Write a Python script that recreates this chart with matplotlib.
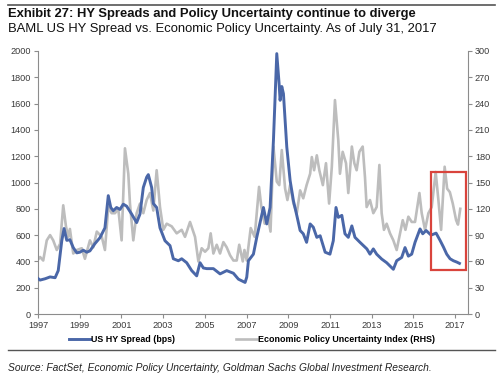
import matplotlib
matplotlib.use("Agg")
import matplotlib.pyplot as plt
from matplotlib.patches import Rectangle

plt.rcParams['font.family'] = ['Liberation Sans', 'DejaVu Sans']

# ---------------- data ----------------
hy_dates = [1997.00, 1997.10, 1997.34, 1997.58, 1997.82, 1997.97, 1998.14, 1998.25, 1998.38, 1998.53,
            1998.69, 1998.86, 1999.01, 1999.17, 1999.34, 1999.49, 1999.73, 1999.97, 2000.21, 2000.37,
            2000.49, 2000.61, 2000.77, 2000.93, 2001.09, 2001.25, 2001.49, 2001.73, 2001.89, 2002.05,
            2002.21, 2002.29, 2002.45, 2002.53, 2002.69, 2002.85, 2003.09, 2003.33, 2003.49, 2003.73,
            2003.89, 2004.13, 2004.37, 2004.61, 2004.77, 2004.93, 2005.09, 2005.41, 2005.73, 2006.05,
            2006.37, 2006.61, 2006.93, 2007.01, 2007.09, 2007.33, 2007.49, 2007.81, 2007.97, 2008.13,
            2008.29, 2008.45, 2008.56, 2008.61, 2008.69, 2008.77, 2008.93, 2009.09, 2009.25, 2009.41,
            2009.57, 2009.72, 2009.88, 2010.05, 2010.20, 2010.37, 2010.53, 2010.77, 2011.00, 2011.16,
            2011.29, 2011.40, 2011.57, 2011.72, 2011.88, 2012.05, 2012.20, 2012.44, 2012.77, 2012.92,
            2013.08, 2013.24, 2013.48, 2013.72, 2014.04, 2014.20, 2014.44, 2014.60, 2014.76, 2014.92,
            2015.08, 2015.32, 2015.45, 2015.61, 2015.85, 2016.09, 2016.28, 2016.44, 2016.60, 2016.76,
            2016.92, 2017.08, 2017.21]
hy_spread = [270, 258, 268, 282, 276, 330, 557, 650, 560, 565,
             505, 465, 470, 485, 470, 480, 535, 580, 655, 900,
             810, 785, 810, 795, 835, 820, 760, 695, 760, 962,
             1040, 1060, 962, 840, 810, 655, 557, 520, 420, 405,
             420, 390, 330, 290, 390, 350, 345, 345, 305, 330,
             310, 265, 240, 280, 405, 455, 583, 810, 685, 810,
             1320, 1980, 1755, 1625, 1730, 1675, 1270, 1015, 860, 750,
             635, 610, 545, 685, 660, 583, 595, 470, 455, 557,
             810, 735, 750, 610, 583, 670, 583, 545, 495, 455,
             495, 455, 418, 390, 340, 405, 430, 505, 440, 455,
             545, 647, 610, 635, 600, 615, 560, 510, 455, 420,
             405, 395, 385]

epu_dates = [1997.00, 1997.10, 1997.25, 1997.42, 1997.58, 1997.73, 1997.90, 1998.06, 1998.21, 1998.34,
             1998.45, 1998.53, 1998.69, 1998.86, 1999.10, 1999.25, 1999.49, 1999.65, 1999.82, 2000.06,
             2000.21, 2000.37, 2000.53, 2000.69, 2000.85, 2001.01, 2001.17, 2001.33, 2001.41, 2001.57,
             2001.73, 2001.89, 2002.05, 2002.21, 2002.37, 2002.53, 2002.69, 2002.85, 2003.01, 2003.17,
             2003.41, 2003.65, 2003.89, 2004.05, 2004.29, 2004.53, 2004.69, 2004.85, 2005.01, 2005.17,
             2005.28, 2005.41, 2005.57, 2005.73, 2005.89, 2006.05, 2006.21, 2006.37, 2006.53, 2006.65,
             2006.82, 2006.90, 2007.01, 2007.20, 2007.39, 2007.60, 2007.71, 2007.87, 2008.03, 2008.15,
             2008.29, 2008.45, 2008.57, 2008.69, 2008.85, 2008.96, 2009.09, 2009.25, 2009.41, 2009.57,
             2009.72, 2009.88, 2010.05, 2010.13, 2010.24, 2010.37, 2010.49, 2010.66, 2010.81, 2010.96,
             2011.09, 2011.24, 2011.40, 2011.48, 2011.61, 2011.77, 2011.88, 2012.05, 2012.17, 2012.28,
             2012.41, 2012.57, 2012.68, 2012.76, 2012.92, 2013.08, 2013.24, 2013.37, 2013.48, 2013.59,
             2013.72, 2013.88, 2014.04, 2014.20, 2014.33, 2014.49, 2014.62, 2014.76, 2014.92, 2015.08,
             2015.29, 2015.40, 2015.56, 2015.72, 2015.88, 2016.07, 2016.20, 2016.33, 2016.50, 2016.62,
             2016.75, 2016.89, 2017.05, 2017.14, 2017.25]
epu_index = [62, 65, 61, 84, 90, 84, 73, 80, 124, 100,
             88, 97, 69, 73, 75, 63, 84, 76, 94, 88,
             73, 122, 115, 115, 120, 84, 189, 160, 126, 84,
             115, 126, 115, 130, 138, 118, 164, 122, 96, 103,
             100, 92, 96, 88, 105, 88, 60, 75, 71, 75,
             92, 69, 79, 69, 82, 76, 67, 61, 61, 79,
             60, 73, 61, 98, 88, 145, 122, 103, 111, 94,
             191, 151, 147, 187, 143, 130, 147, 126, 115, 141,
             132, 147, 160, 179, 164, 181, 164, 147, 172, 126,
             168, 244, 198, 160, 185, 172, 138, 191, 172, 164,
             185, 191, 156, 122, 130, 115, 122, 170, 115, 96,
             103, 92, 84, 73, 88, 107, 96, 111, 105, 105,
             138, 115, 96, 115, 122, 162, 130, 96, 168, 143,
             139, 126, 107, 102, 120]

year_ticks = list(range(1997, 2018, 2))
left_ticks = list(range(0, 2001, 200))
right_ticks = list(range(0, 301, 30))

title = "Exhibit 27: HY Spreads and Policy Uncertainty continue to diverge"
subtitle = "BAML US HY Spread vs. Economic Policy Uncertainty. As of July 31, 2017"
source = "Source: FactSet, Economic Policy Uncertainty, Goldman Sachs Global Investment Research."
label_hy = "US HY Spread (bps)"
label_epu = "Economic Policy Uncertainty Index (RHS)"

# ---------------- figure ----------------
W, H = 500, 381
fig = plt.figure(figsize=(W / 100, H / 100), dpi=100)

def fx(px):
    return px / W

def fy(py):
    return 1 - py / H

ax = fig.add_axes([fx(38), fy(314), fx(468) - fx(38), fy(51) - fy(314)])
ax2 = ax.twinx()

blue = "#4A67A8"
grey = "#BDBDBD"
spine_c = "#8C8C8C"
txt_c = "#3A3A3A"

l2, = ax2.plot(epu_dates, epu_index, color=grey, lw=1.9, solid_joinstyle='round', zorder=1)
l1, = ax.plot(hy_dates, hy_spread, color=blue, lw=2.1, solid_joinstyle='round', zorder=3)
ax.set_zorder(ax2.get_zorder() + 1)
ax.patch.set_visible(False)

ax.set_xlim(1997, 2017.62)
ax.set_ylim(0, 2000)
ax2.set_ylim(0, 300)
ax.set_xticks(year_ticks)
ax.set_xticklabels([str(y) for y in year_ticks])
ax.set_yticks(left_ticks)
ax2.set_yticks(right_ticks)

for a in (ax, ax2):
    for s in a.spines.values():
        s.set_color(spine_c)
        s.set_linewidth(0.8)
    a.spines['top'].set_visible(False)
    a.tick_params(colors=spine_c, labelcolor=txt_c, labelsize=6.6, length=3, width=0.8, pad=2)
ax.spines['right'].set_visible(False)
ax2.spines['left'].set_visible(False)
ax2.spines['bottom'].set_visible(False)

# highlight box
ax.add_patch(Rectangle((2015.85, 335), 1.68, 745, fill=False, edgecolor="#D9443C", lw=1.6, zorder=5, clip_on=False))

# texts
fig.add_artist(plt.Line2D([fx(8), fx(495)], [fy(5), fy(5)], color="#555555", lw=1.2))
fig.text(fx(8), fy(14), title, fontsize=9.4, fontweight='bold', color="#111111", va='center', ha='left')
fig.text(fx(8), fy(29), subtitle, fontsize=9.4, color="#111111", va='center', ha='left')

fig.legend([l1, l2], [label_hy, label_epu], loc='center', bbox_to_anchor=(fx(252), fy(340)),
           ncol=2, frameon=False, handlelength=2.4, handletextpad=0.15,
           columnspacing=6.8, prop={'weight': 'bold', 'size': 6.4})

fig.add_artist(plt.Line2D([fx(8), fx(495)], [fy(350), fy(350)], color="#555555", lw=1.0))
fig.text(fx(8), fy(368), source, fontsize=7.35, style='italic', color="#222222", va='center', ha='left')

fig.savefig("out.png", dpi=100)
